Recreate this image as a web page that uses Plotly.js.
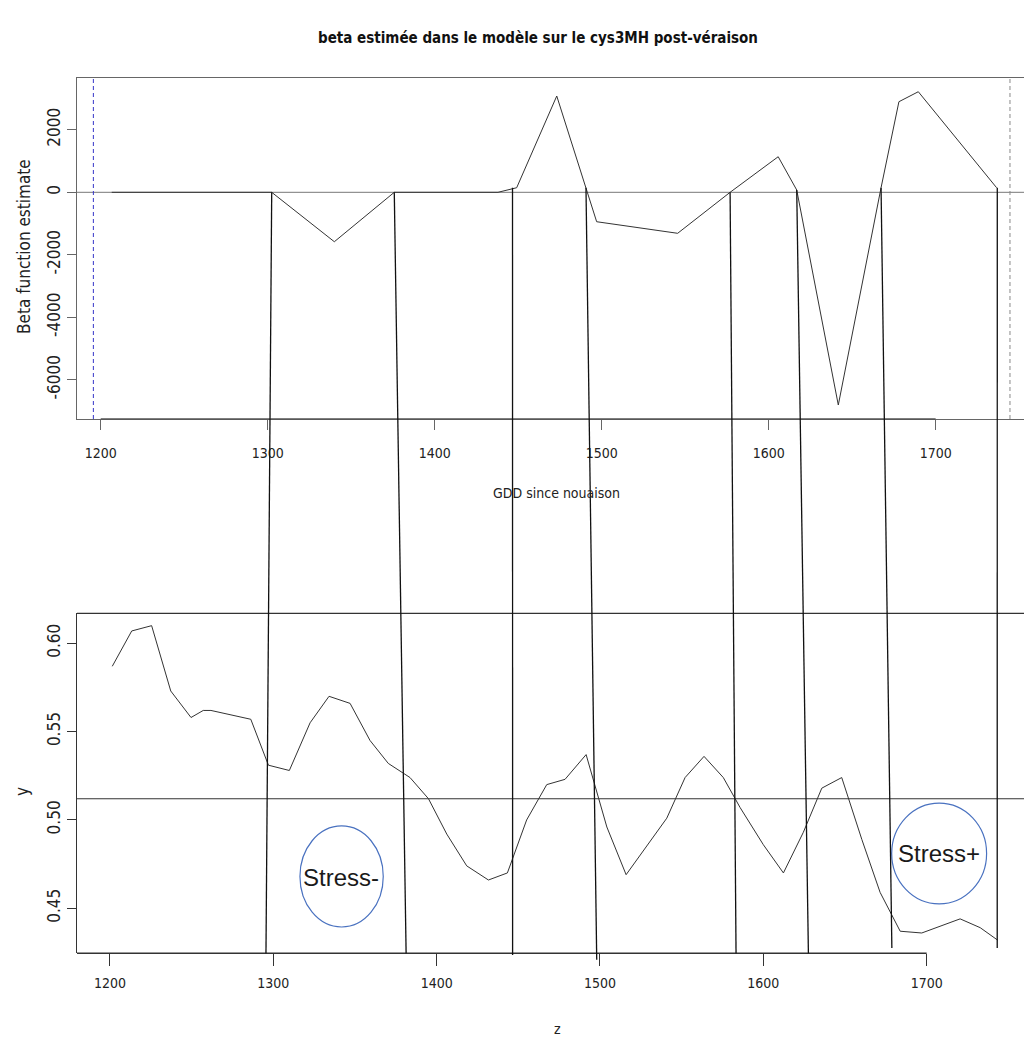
<!DOCTYPE html>
<html>
<head>
<meta charset="utf-8">
<script src="https://cdn.plot.ly/plotly-3.0.1.min.js"></script>
<style>html,body{margin:0;padding:0;background:#fff;}#chart{width:1024px;height:1037px;}</style>
</head>
<body>
<div id="chart"></div>
<script>
// ---- Top panel: beta function estimate vs GDD since nouaison ----
const betaGDD = [1206.6, 1302.4, 1339.9, 1375.8, 1437.9, 1449.1, 1473.1, 1490.6, 1497.0, 1545.5, 1576.9, 1605.7, 1616.8, 1641.7, 1667.3, 1678.0, 1689.6, 1736.5];
const betaValue = [0, 0, -1581, 0, 0, 147, 3082, 147, -941, -1312, 0, 1139, 74, -6806, 147, 2899, 3219, 147];
const betaTicks = [-6000, -4000, -2000, 0, 2000];
const betaTickText = ['-6000', '-4000', '-2000', '0', '2000'];
const gddTicks = [1200, 1300, 1400, 1500, 1600, 1700];
const gddTickText = ['1200', '1300', '1400', '1500', '1600', '1700'];
const betaBounds = [1195.6, 1744.5]; // dashed vertical reference lines

// ---- Bottom panel: y vs z ----
const zValues = [1201.4, 1213.3, 1225.5, 1237.2, 1249.6, 1257.1, 1261.8, 1286.2, 1297.0, 1309.8,
  1322.5, 1334.1, 1347.0, 1359.2, 1370.4, 1383.7, 1395.0, 1406.2, 1418.4, 1431.7,
  1443.3, 1455.1, 1467.4, 1478.6, 1491.5, 1504.2, 1516.0, 1528.7, 1540.9, 1552.1,
  1563.7, 1575.5, 1585.8, 1600.0, 1612.3, 1624.5, 1635.8, 1648.0, 1660.3, 1671.5,
  1683.8, 1697.0, 1708.3, 1720.5, 1732.8, 1743.4];
const yValues = [0.587, 0.607, 0.610, 0.573, 0.558, 0.562, 0.562, 0.557, 0.531, 0.528,
  0.555, 0.570, 0.566, 0.545, 0.532, 0.524, 0.512, 0.492, 0.474, 0.466,
  0.470, 0.500, 0.520, 0.523, 0.537, 0.496, 0.469, 0.485, 0.501, 0.524,
  0.536, 0.524, 0.507, 0.486, 0.470, 0.493, 0.518, 0.524, 0.489, 0.459,
  0.437, 0.436, 0.440, 0.444, 0.439, 0.432];
const yTicks = [0.45, 0.50, 0.55, 0.60];
const yTickText = ['0.45', '0.50', '0.55', '0.60'];
const zTicks = [1200, 1300, 1400, 1500, 1600, 1700];
const zTickText = ['1200', '1300', '1400', '1500', '1600', '1700'];
const yReference = 0.512;

// ---- Connector lines drawn across both panels ----
const cutTopGDD = [1302.4, 1375.8, 1446.6, 1490.6, 1576.9, 1616.8, 1667.3, 1736.9];
const cutTopBeta = [0, 0, 147, 147, 0, 74, 147, 147];
const cutBottomZ = [1295.5, 1381.3, 1446.5, 1498.0, 1583.3, 1627.6, 1678.7, 1743.2];
const cutBottomY = [0.4245, 0.4245, 0.4236, 0.4208, 0.4245, 0.4245, 0.4275, 0.4275];

// ---- Stress annotations ----
const stressLabels = ['Stress-', 'Stress+'];
const stressZ = [1341.4, 1707.5];
const stressY = [0.4672, 0.4808];
const stressZ0 = [1316.3, 1678.6];
const stressZ1 = [1367.3, 1736.7];
const stressY0 = [0.4394, 0.4525];
const stressY1 = [0.4966, 0.5095];

// ---- Titles ----
const mainTitle = 'beta estimée dans le modèle sur le cys3MH post-véraison';
const topXTitle = 'GDD since nouaison';
const topYTitle = 'Beta function estimate';
const botXTitle = 'z';
const botYTitle = 'y';

const FONT = 'Liberation Sans Narrow, DejaVu Sans Condensed, Arial Narrow, Liberation Sans, sans-serif';
const BOX = '#666';

const xDom = [77 / 1024, 1];
const topDom = [1 - 419 / 1037, 1 - 78 / 1037];
const botDom = [1 - 953.3 / 1037, 1 - 613.3 / 1037];
const topXR = [1185.8, 1752.9];
const topYR = [-7254, 3658];
const botXR = [1179.8, 1759.6];
const botYR = [0.4245, 0.617];

function toPaper(v, range, dom) {
  return dom[0] + (v - range[0]) / (range[1] - range[0]) * (dom[1] - dom[0]);
}

const traces = [
  {x: betaGDD, y: betaValue, xaxis: 'x', yaxis: 'y', type: 'scatter', mode: 'lines',
   line: {color: '#333', width: 1}, hoverinfo: 'skip'},
  {x: zValues, y: yValues, xaxis: 'x2', yaxis: 'y2', type: 'scatter', mode: 'lines',
   line: {color: '#333', width: 1}, hoverinfo: 'skip'}
];

const shapes = [];
// top panel reference lines
shapes.push({type: 'line', xref: 'x domain', yref: 'y', x0: 0, x1: 1, y0: 0, y1: 0, line: {color: '#777', width: 1}, layer: 'below'});
shapes.push({type: 'line', xref: 'x', yref: 'y domain', x0: betaBounds[0], x1: betaBounds[0], y0: 0, y1: 1, line: {color: '#3535c8', width: 1, dash: '4px,3px'}});
shapes.push({type: 'line', xref: 'x', yref: 'y domain', x0: betaBounds[1], x1: betaBounds[1], y0: 0, y1: 1, line: {color: '#888', width: 1, dash: '4px,3px'}});
// top panel axis line (R style, 1200-1700)
shapes.push({type: 'line', xref: 'x', yref: 'y domain', x0: gddTicks[0], x1: gddTicks[gddTicks.length - 1], y0: 0, y1: 0, line: {color: '#555', width: 1.6}});
// bottom panel box pieces
shapes.push({type: 'line', xref: 'x2 domain', yref: 'y2 domain', x0: 0, x1: 1, y0: 1, y1: 1, line: {color: '#333', width: 1.2}});
shapes.push({type: 'line', xref: 'x2', yref: 'y2 domain', x0: botXR[0], x1: zTicks[zTicks.length - 1], y0: 0, y1: 0, line: {color: '#333', width: 1.5}});
shapes.push({type: 'line', xref: 'x2 domain', yref: 'y2', x0: 0, x1: 1, y0: yReference, y1: yReference, line: {color: '#333', width: 1.2}});
// stress ellipses
for (let i = 0; i < stressLabels.length; i++) {
  shapes.push({type: 'circle', xref: 'x2', yref: 'y2', x0: stressZ0[i], x1: stressZ1[i], y0: stressY0[i], y1: stressY1[i],
    line: {color: '#4a72c0', width: 1.2}});
}
// connectors across panels
for (let i = 0; i < cutTopGDD.length; i++) {
  shapes.push({type: 'line', xref: 'paper', yref: 'paper',
    x0: toPaper(cutTopGDD[i], topXR, xDom), y0: toPaper(cutTopBeta[i], topYR, topDom),
    x1: toPaper(cutBottomZ[i], botXR, xDom), y1: toPaper(cutBottomY[i], botYR, botDom),
    line: {color: '#111', width: 1.3}});
}

const titleFont = {family: FONT, size: 14, color: '#222'};
const vTitleFont = {family: FONT, size: 17, color: '#222'};
const annotations = stressLabels.map((t, i) => ({
  text: t, x: stressZ[i], y: stressY[i], xref: 'x2', yref: 'y2', showarrow: false,
  xanchor: 'center', yanchor: 'middle',
  font: {family: 'Liberation Sans, Arial, sans-serif', size: 24, color: '#1a1a1a'}
}));
// axis titles, placed as in the R figure
annotations.push({text: topXTitle, xref: 'paper', yref: 'paper', x: 556.5 / 1024, y: 1 - 493 / 1037, showarrow: false, xanchor: 'center', yanchor: 'middle', font: titleFont});
annotations.push({text: topYTitle, xref: 'paper', yref: 'paper', x: 24 / 1024, y: 1 - 247 / 1037, showarrow: false, xanchor: 'center', yanchor: 'middle', textangle: -90, font: vTitleFont});
annotations.push({text: botXTitle, xref: 'paper', yref: 'paper', x: 557 / 1024, y: 1 - 1029 / 1037, showarrow: false, xanchor: 'center', yanchor: 'middle', font: titleFont});
annotations.push({text: botYTitle, xref: 'paper', yref: 'paper', x: 22 / 1024, y: 1 - 792 / 1037, showarrow: false, xanchor: 'center', yanchor: 'middle', textangle: -90, font: vTitleFont});

const tickFont = {family: FONT, size: 14, color: '#222'};
const vTickFont = {family: FONT, size: 17, color: '#222'};

const layout = {
  width: 1024, height: 1037,
  margin: {l: 0, r: 0, t: 0, b: 0, pad: 0},
  paper_bgcolor: '#fff', plot_bgcolor: '#fff',
  showlegend: false,
  title: {text: mainTitle,
    x: 538 / 1024, xanchor: 'center', xref: 'paper', y: 1 - 38 / 1037, yanchor: 'middle', yref: 'container',
    font: {family: FONT, size: 15, weight: 'bold', color: '#111'}},
  xaxis: {domain: xDom, range: topXR, anchor: 'y', tickvals: gddTicks, ticktext: gddTickText,
    ticks: 'outside', ticklen: 10, tickcolor: BOX, tickwidth: 1, showline: true, mirror: true, linecolor: BOX, linewidth: 1,
    showgrid: false, zeroline: false, tickfont: tickFont, automargin: false, ticklabelstandoff: 11},
  yaxis: {domain: topDom, range: topYR, anchor: 'x', tickvals: betaTicks, ticktext: betaTickText, tickangle: -90,
    ticks: 'outside', ticklen: 9, tickcolor: BOX, tickwidth: 1, showline: true, mirror: false, linecolor: BOX, linewidth: 1,
    showgrid: false, zeroline: false, tickfont: vTickFont, automargin: false, ticklabelstandoff: 0},
  xaxis2: {domain: xDom, range: botXR, anchor: 'y2', tickvals: zTicks, ticktext: zTickText,
    ticks: 'outside', ticklen: 12, tickcolor: '#333', tickwidth: 1, showline: false,
    showgrid: false, zeroline: false, tickfont: tickFont, automargin: false, ticklabelstandoff: 5},
  yaxis2: {domain: botDom, range: botYR, anchor: 'x2', tickvals: yTicks, ticktext: yTickText, tickangle: -90,
    ticks: 'outside', ticklen: 9, tickcolor: '#333', tickwidth: 1, showline: true, mirror: false, linecolor: '#333', linewidth: 1.2,
    showgrid: false, zeroline: false, tickfont: vTickFont, automargin: false, ticklabelstandoff: 0},
  shapes: shapes,
  annotations: annotations
};

Plotly.newPlot('chart', traces, layout, {displayModeBar: false, staticPlot: true});
</script>
</body>
</html>
